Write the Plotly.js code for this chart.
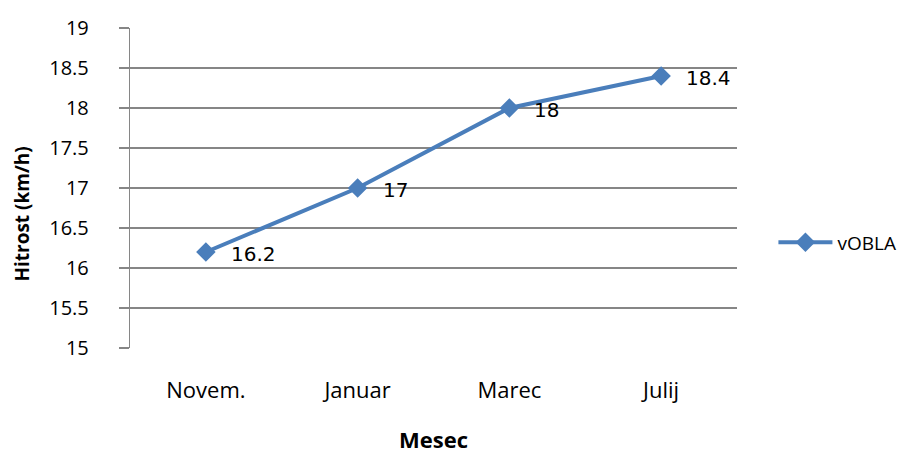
<!DOCTYPE html>
<html>
<head>
<meta charset="utf-8">
<script src="https://cdn.plot.ly/plotly-3.0.1.min.js"></script>
<style>
  html, body { margin: 0; padding: 0; background: #ffffff; }
  #chart { width: 911px; height: 454px; }
</style>
</head>
<body>
<div id="chart"></div>
<script>
// Months on the x axis and the average speed (km/h) for the vOBLA series
const months = ["Novem.", "Januar", "Marec", "Julij"];
const speedVOBLA = [16.2, 17, 18, 18.4];
const seriesName = "vOBLA";

// Y axis ticks
const yTickVals = [15, 15.5, 16, 16.5, 17, 17.5, 18, 18.5, 19];
const yTickText = ["15", "15.5", "16", "16.5", "17", "17.5", "18", "18.5", "19"];

const blue = "#4a7ebb";
const gridGray = "#868686";
const labelFont = "Open Sans, Noto Sans, sans-serif";

const trace = {
  type: "scatter",
  mode: "lines+markers",
  x: months,
  y: speedVOBLA,
  name: seriesName,
  line: { color: blue, width: 4 },
  marker: { symbol: "diamond", size: 15, color: blue },
  hoverinfo: "x+y"
};

// Value labels placed to the right of each point
const valueLabels = months.map((m, i) => ({
  x: m,
  y: speedVOBLA[i],
  xref: "x",
  yref: "y",
  text: String(speedVOBLA[i]),
  showarrow: false,
  xanchor: "left",
  yanchor: "middle",
  xshift: 23,
  yshift: -2,
  font: { family: "DejaVu Sans, sans-serif", size: 20, color: "#000000" }
}));

// Vertical axis title, set as a rotated annotation so it can sit slightly below centre
const yTitle = {
  xref: "paper",
  yref: "paper",
  x: -0.178,
  y: 0.42,
  xanchor: "center",
  yanchor: "middle",
  text: "<b>Hitrost (km/h)</b>",
  textangle: -90,
  showarrow: false,
  font: { family: labelFont, size: 19, color: "#000000" }
};

const layout = {
  width: 911,
  height: 454,
  margin: { l: 130, r: 174, t: 27.5, b: 105.5, autoexpand: false },
  paper_bgcolor: "#ffffff",
  plot_bgcolor: "#ffffff",
  showlegend: true,
  legend: {
    x: 1.06,
    y: 0.33,
    xanchor: "left",
    yanchor: "middle",
    font: { family: labelFont, size: 19, color: "#000000" },
    itemwidth: 54
  },
  xaxis: {
    type: "category",
    range: [-0.5, 3.5],
    showgrid: false,
    showline: false,
    ticks: "",
    ticklabelstandoff: 27,
    tickfont: { family: labelFont, size: 22, color: "#000000" },
    title: {
      text: "<b>Mesec</b>",
      font: { family: labelFont, size: 22, color: "#000000" },
      standoff: 42
    }
  },
  yaxis: {
    range: [15, 19],
    tickvals: yTickVals,
    ticktext: yTickText,
    showgrid: true,
    gridcolor: gridGray,
    gridwidth: 1.2,
    showline: true,
    linecolor: gridGray,
    linewidth: 1.2,
    ticks: "outside",
    ticklen: 10,
    tickcolor: gridGray,
    tickwidth: 1.2,
    ticklabelstandoff: 26,
    zeroline: false,
    tickfont: { family: labelFont, size: 20, color: "#000000" }
  },
  annotations: valueLabels.concat([yTitle])
};

Plotly.newPlot("chart", [trace], layout, { displayModeBar: false, staticPlot: true });
</script>
</body>
</html>
